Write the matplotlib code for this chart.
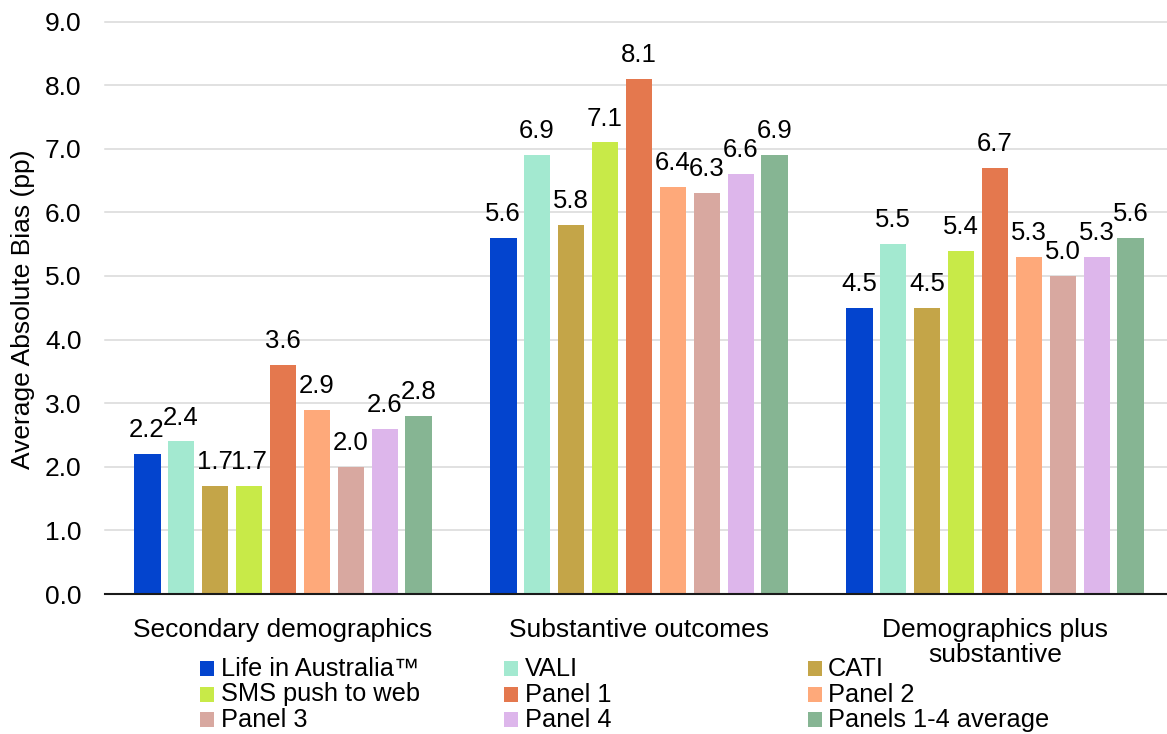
import matplotlib
matplotlib.use("Agg")
import matplotlib.pyplot as plt
from matplotlib.patches import Rectangle
import numpy as np

plt.rcParams["font.family"] = ["Liberation Sans", "DejaVu Sans"]

categories = ["Secondary demographics", "Substantive outcomes", "Demographics plus\nsubstantive"]
series_names = ["Life in Australia\u2122", "VALI", "CATI", "SMS push to web",
                "Panel 1", "Panel 2", "Panel 3", "Panel 4", "Panels 1-4 average"]
series_colors = ["#0344CE", "#A3E9D0", "#C4A548", "#C8EA48", "#E4784E",
                 "#FEA97A", "#D8A8A0", "#DDB6EB", "#86B593"]

secondary_demographics = [2.2, 2.4, 1.7, 1.7, 3.6, 2.9, 2.0, 2.6, 2.8]
substantive_outcomes = [5.6, 6.9, 5.8, 7.1, 8.1, 6.4, 6.3, 6.6, 6.9]
demographics_plus_substantive = [4.5, 5.5, 4.5, 5.4, 6.7, 5.3, 5.0, 5.3, 5.6]

y_ticks = [0, 1, 2, 3, 4, 5, 6, 7, 8, 9]

W, H = 1167, 734
fig = plt.figure(figsize=(W / 100, H / 100), dpi=100)
ax = fig.add_axes([105 / W, (H - 594) / H, (W - 105) / W, (594 - 21.5) / H])

values = np.array([secondary_demographics, substantive_outcomes, demographics_plus_substantive])
x = np.arange(len(categories))
pitch = 0.0955
width = 0.0758
n = len(series_names)
for i, (name, color) in enumerate(zip(series_names, series_colors)):
    offs = (i - (n - 1) / 2) * pitch
    bars = ax.bar(x + offs, values[:, i], width=width, color=color, label=name, zorder=3)
    ax.bar_label(bars, labels=[f"{v:.1f}" for v in values[:, i]], padding=8.5,
                 fontsize=18.5, color="#000000")

ax.set_xlim(-0.5, (W - 283) / 356)
ax.set_ylim(0, 9)
ax.set_yticks(y_ticks)
ax.set_yticklabels([f"{t:.1f}" for t in y_ticks])
ax.set_xticks(x)
ax.set_xticklabels(categories)
for t in ax.get_xticklabels():
    t.set_linespacing(1.05)

ax.tick_params(axis="both", length=0, labelsize=19, colors="#000000")
ax.tick_params(axis="y", pad=17)
ax.tick_params(axis="x", pad=17)

ax.yaxis.grid(True, color="#D9D9D9", linewidth=1.1, zorder=0)
ax.set_axisbelow(True)
for gl in ax.get_ygridlines():
    gl.set_clip_on(False)

for side in ["left", "right", "top"]:
    ax.spines[side].set_visible(False)
ax.spines["bottom"].set_color("#1a1a1a")
ax.spines["bottom"].set_linewidth(1.5)
ax.spines["bottom"].set_zorder(4)

fig.text(23 / W, 1 - 309 / H, "Average Absolute Bias (pp)", rotation=90,
         ha="center", va="center", fontsize=19)

# legend laid out in three columns, filled row by row
col_marker_x = [200, 504, 808]
col_text_x = [221, 525, 828]
row_baseline = [676, 701.5, 727]
for k, (name, color) in enumerate(zip(series_names, series_colors)):
    r, c = divmod(k, 3)
    fig.patches.append(Rectangle((col_marker_x[c] / W, 1 - row_baseline[r] / H),
                                 14 / W, 15 / H, transform=fig.transFigure,
                                 facecolor=color, edgecolor="none"))
    fig.text(col_text_x[c] / W, 1 - row_baseline[r] / H, name, ha="left",
             va="baseline", fontsize=18.3)

fig.savefig("out.png", dpi=100)
